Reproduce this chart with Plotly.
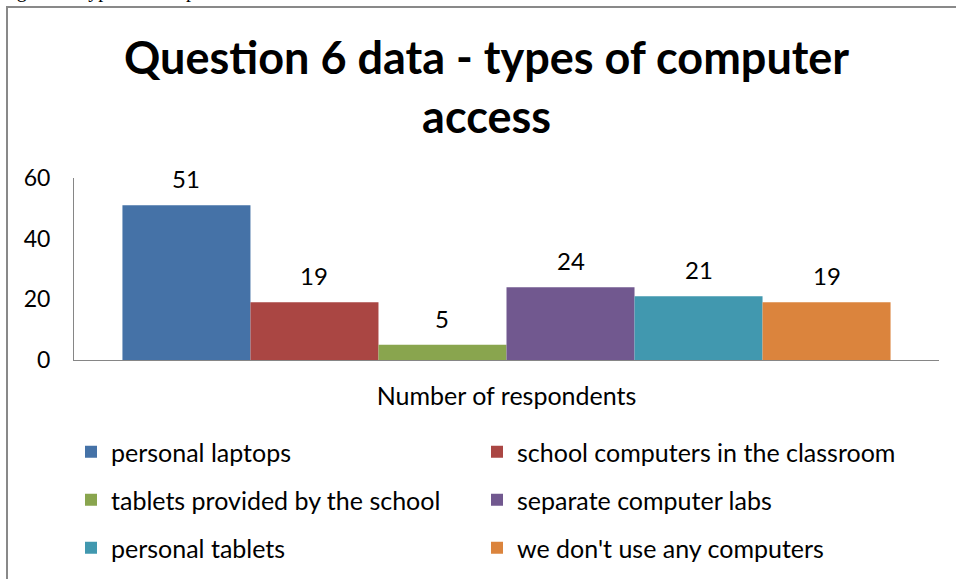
import plotly.graph_objects as go

# Survey results: types of computer access (Question 6)
category = ["Number of respondents"]
series_names = [
    "personal laptops",
    "school computers in the classroom",
    "tablets provided by the school",
    "separate computer labs",
    "personal tablets",
    "we don't use any computers",
]
series_values = [51, 19, 5, 24, 21, 19]
series_colors = ["#4572A7", "#AA4643", "#89A54E", "#71588F", "#4198AF", "#DB843D"]
y_ticks = [0, 20, 40, 60]

W, H = 956, 579
L, R, T, B = 74, 17, 178, 219
PW, PH = W - L - R, H - T - B
BARGAP = 0.112
FONT = "Lato"


def px_x(px):
    return (px - L) / PW


def px_y(py):
    return (H - B - py) / PH


# legend laid out as a 2-column grid, one legend box per entry
legend_ids = ["legend"] + [f"legend{k}" for k in range(2, len(series_names) + 1)]
col_x = [71, 477]
rows_y = [452, 500, 548]

fig = go.Figure()
for name, val, col, lg in zip(series_names, series_values, series_colors, legend_ids):
    fig.add_trace(go.Bar(x=category, y=[val], name=name, marker_color=col,
                         marker_line_width=0, legend=lg, showlegend=True))

# value labels above each bar of the group
n = len(series_values)
bw = (1 - BARGAP) / n
for i, val in enumerate(series_values):
    fig.add_annotation(x=-(1 - BARGAP) / 2 + bw * (i + 0.5), y=val, xref="x", yref="y",
                       text=str(val), showarrow=False, yanchor="bottom", yshift=10,
                       font=dict(family=FONT, size=24, color="#000000"))

# caption above the chart frame (mostly off the page)
fig.add_annotation(text="Figure 6: Types of computer access", xref="paper", yref="paper",
                   x=px_x(-2), y=px_y(-10), xanchor="left", yanchor="middle", showarrow=False,
                   font=dict(family="Liberation Serif", size=20, color="#000000"))

# chart title
fig.add_annotation(text="<b>Question 6 data - types of computer<br>access</b>",
                   xref="paper", yref="paper", x=px_x(486), y=px_y(86),
                   xanchor="center", yanchor="middle", showarrow=False,
                   font=dict(family=FONT, size=45, color="#000000"))

# chart frame
fig.add_shape(type="rect", xref="paper", yref="paper",
              x0=px_x(7), x1=px_x(965), y0=px_y(600), y1=px_y(7),
              line=dict(color="#898989", width=2), fillcolor="rgba(0,0,0,0)", layer="below")

legend_common = dict(orientation="h", xref="container", yref="container",
                     xanchor="left", yanchor="middle",
                     font=dict(family=FONT, size=25, color="#000000"),
                     bgcolor="rgba(0,0,0,0)", itemclick=False, itemdoubleclick=False)
legends = {}
for k, lg in enumerate(legend_ids):
    legends[lg] = dict(legend_common, x=col_x[k % 2] / W, y=1 - rows_y[k // 2] / H)

fig.update_layout(
    width=W, height=H,
    margin=dict(l=L, r=R, t=T, b=B),
    paper_bgcolor="#FFFFFF", plot_bgcolor="#FFFFFF",
    showlegend=True,
    barmode="group", bargap=BARGAP, bargroupgap=0,
    xaxis=dict(type="category", showline=True, linecolor="#868686", linewidth=1,
               showgrid=False, zeroline=False, ticks="", ticklabelstandoff=14,
               tickfont=dict(family=FONT, size=25, color="#000000"), fixedrange=True),
    yaxis=dict(range=[0, 60], tickvals=y_ticks, showline=True, linecolor="#868686",
               linewidth=1, showgrid=False, zeroline=False, ticks="", ticklabelstandoff=18,
               tickfont=dict(family=FONT, size=23, color="#000000"), fixedrange=True),
    **legends,
)

fig.write_html("out.html")
